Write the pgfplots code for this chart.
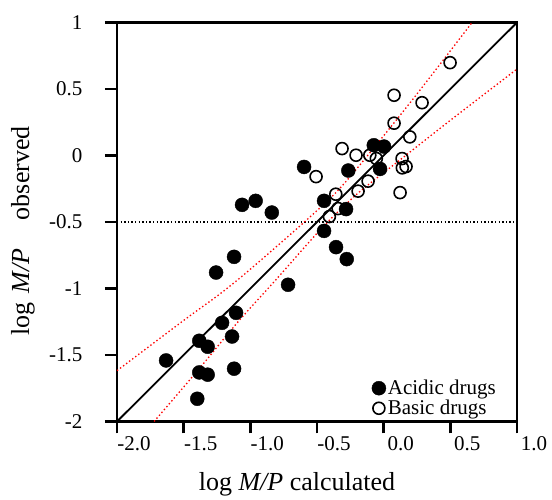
\documentclass[border=0pt]{standalone}
\usepackage{pgfplots}
\pgfplotsset{compat=1.18}
\usepackage{fontspec}
\setmainfont{Liberation Serif}

% acidic drugs (filled)
\pgfplotstableread{
x y
-0.074 0.077
0.003 0.067
-0.265 -0.113
-0.027 -0.101
-0.597 -0.086
-0.447 -0.341
-0.282 -0.403
-1.062 -0.371
-0.960 -0.341
-0.839 -0.429
-0.447 -0.567
-0.357 -0.689
-0.277 -0.779
-1.122 -0.762
-1.257 -0.880
-0.717 -0.972
-1.107 -1.183
-1.212 -1.258
-1.137 -1.361
-1.383 -1.393
-1.320 -1.438
-1.632 -1.541
-1.383 -1.631
-1.320 -1.648
-1.122 -1.603
-1.398 -1.829
}\acidic

% basic drugs (open)
\pgfplotstableread{
x y
0.498 0.698
0.078 0.453
0.288 0.397
0.078 0.243
0.196 0.140
-0.312 0.052
-0.207 0.002
-0.104 0.002
-0.055 -0.023
0.138 -0.023
0.140 -0.093
0.168 -0.083
-0.507 -0.159
-0.117 -0.193
-0.192 -0.268
0.123 -0.279
-0.359 -0.291
-0.342 -0.399
-0.407 -0.459
}\basic

\begin{document}
\begin{tikzpicture}
\begin{axis}[
    width=400pt, height=399pt, scale only axis,
    xmin=-2, xmax=1, ymin=-2, ymax=1,
    axis line style={line width=2.4pt},
    tick align=outside, tick pos=left,
    major tick length=12pt,
    tick style={line width=2.4pt, black},
    xtick={-2,-1.5,-1,-0.5,0,0.5,1},
    xticklabels={-2.0,-1.5,-1.0,-0.5,0.0,0.5,1.0},
    ytick={-2,-1.5,-1,-0.5,0,0.5,1},
    yticklabels={-2,-1.5,-1,-0.5,0,0.5,1},
    ticklabel style={font=\fontsize{21}{24}\selectfont},
    xticklabel style={xshift=17pt},
    yticklabel style={xshift=-19pt},
    xlabel={log \textit{M/P} calculated},
    ylabel={log\hspace{0.35em}\textit{M/P}\hspace{1.1em}observed},
    label style={font=\fontsize{26}{29}\selectfont},
    xlabel style={at={(axis description cs:0.5,0)}, anchor=center, yshift=-63pt, xshift=-20pt},
    ylabel style={at={([xshift=-94pt,yshift=-9pt]axis description cs:0,0.5)}, anchor=center},
    legend style={at={(0.955,0.005)}, anchor=south east, draw=none, fill=none,
        font=\fontsize{21}{23}\selectfont, row sep=0pt, inner sep=1pt,
        /tikz/every even column/.append style={column sep=2pt}},
    legend cell align=left,
]
\addplot[only marks, mark=*, mark size=7pt, black] table[x=x,y=y] {\acidic};
\addlegendentry{Acidic drugs}
\addplot[only marks, mark=o, mark size=6pt, black, mark options={line width=1.6pt}] table[x=x,y=y] {\basic};
\addlegendentry{Basic drugs}
% identity line
\addplot[forget plot, black, line width=1.8pt] coordinates {(-2,-2) (1,1)};
% reference level
\addplot[forget plot, black, line width=1.5pt, dash pattern=on 1.4pt off 2.2pt] coordinates {(-2,-0.5) (1,-0.5)};
% confidence bands
\addplot[forget plot, red, line width=1.3pt, dash pattern=on 1.4pt off 2.4pt, smooth] coordinates {
(-2,-1.618) (-1.5,-1.24) (-1.227,-1.04) (-1.0,-0.855) (-0.577,-0.484) (-0.3,-0.215) (0.185,0.38) (0.663,1.0)};
\addplot[forget plot, red, line width=1.3pt, dash pattern=on 1.4pt off 2.4pt, smooth] coordinates {
(-1.722,-2) (-1.4,-1.623) (-1.09,-1.248) (-0.8,-0.925) (-0.464,-0.546) (-0.2,-0.29) (0.123,-0.033) (0.511,0.273) (1.0,0.65)};
\end{axis}
\path ([shift={(-117pt,-74pt)}]current axis.south west) rectangle ([shift={(35pt,22.5pt)}]current axis.north east);
\end{tikzpicture}
\end{document}
